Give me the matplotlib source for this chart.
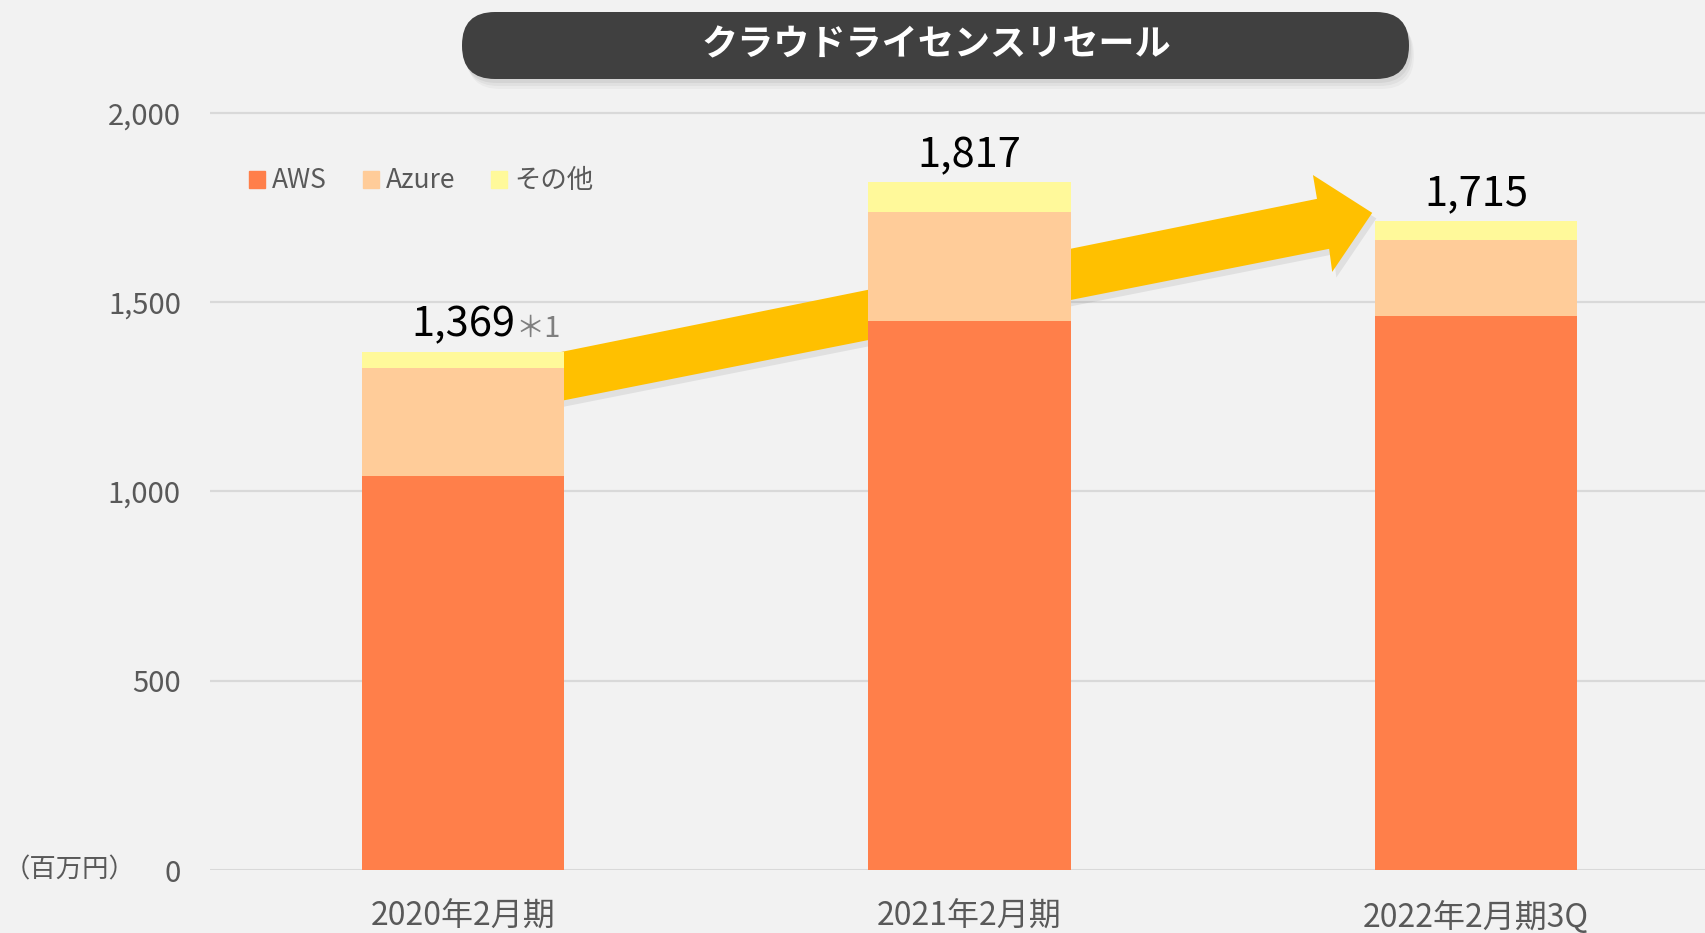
import matplotlib
matplotlib.use('Agg')
import matplotlib.pyplot as plt
from matplotlib.patches import FancyBboxPatch, Polygon, Patch
from matplotlib.transforms import IdentityTransform, ScaledTranslation
import numpy as np

plt.rcParams['font.family'] = ['Noto Sans CJK JP', 'DejaVu Sans']

# data (百万円)
periods = ['2020年2月期', '2021年2月期', '2022年2月期3Q']
aws = [1040, 1451, 1464]
azure = [287, 287, 200]
other = [42, 79, 51]
series_names = ['AWS', 'Azure', 'その他']
yticks = [0, 500, 1000, 1500, 2000]

c_aws = '#FF7F4A'
c_azure = '#FFCC99'
c_other = '#FFF99A'
c_arrow = '#FFC000'
bg = '#F2F2F2'
grey = '#595959'

W, H = 1706, 933
fig = plt.figure(figsize=(W / 100, H / 100), dpi=100, facecolor=bg)
ax = fig.add_axes([210 / W, (H - 870) / H, (W - 210) / W, 776 / H])
ax.set_facecolor(bg)

x = np.arange(len(periods))
bw = 0.4
totals = [a + b + c for a, b, c in zip(aws, azure, other)]
bottom2 = [a + b for a, b in zip(aws, azure)]

ax.bar(x, aws, bw, color=c_aws, zorder=3, label=series_names[0])
ax.bar(x, azure, bw, bottom=aws, color=c_azure, zorder=3, label=series_names[1])
ax.bar(x, other, bw, bottom=bottom2, color=c_other, zorder=3, label=series_names[2])

ax.set_xlim(-0.4995, 2.454)
ax.set_ylim(0, 2050)

# growth arrow behind the bars (data coords)
arrow_pts = [(0.0, 1316), (1.686, 1773), (1.678, 1836), (1.795, 1736),
             (1.716, 1580), (1.710, 1641), (0.0, 1188)]
shadow = Polygon(arrow_pts, closed=True, facecolor='#000000', alpha=0.07,
                 edgecolor='none', zorder=2,
                 transform=ax.transData + ScaledTranslation(3 / 72, -4 / 72, fig.dpi_scale_trans))
ax.add_patch(shadow)
ax.add_patch(Polygon(arrow_pts, closed=True, facecolor=c_arrow, edgecolor='none', zorder=2.5))

# grid
for v in yticks:
    ax.axhline(v, color='#D9D9D9', lw=2.2 if v == 0 else 1.6, zorder=1)
for s in ax.spines.values():
    s.set_visible(False)

ax.set_yticks(yticks)
ax.set_yticklabels([f'{v:,}' for v in yticks], fontsize=21, color=grey)
ax.set_xticks(x)
ax.set_xticklabels(periods, fontsize=23, color=grey)
ax.tick_params(axis='y', length=0, pad=21)
ax.tick_params(axis='x', length=0, pad=22)

# totals above bars
for i, t in enumerate(totals):
    ax.annotate(f'{t:,}', (x[i], t), xytext=(0, 11), textcoords='offset points',
                ha='center', va='baseline', fontsize=30, color='black', zorder=5)
ax.annotate('＊1', (x[0], totals[0]), xytext=(38, 11), textcoords='offset points',
            ha='left', va='baseline', fontsize=21, color='#7F7F7F', zorder=5)

# legend
handles = [Patch(color=c) for c in (c_aws, c_azure, c_other)]
ax.legend(handles, series_names, ncol=3, loc='center left', frameon=False,
          bbox_to_anchor=(249 / W, 1 - 181 / H), bbox_transform=fig.transFigure,
          borderaxespad=0, borderpad=0, fontsize=19, labelcolor=grey,
          handlelength=0.61, handleheight=0.61, handletextpad=0.27, columnspacing=1.35)

# unit
fig.text(4 / W, 1 - 870 / H, '（百万円）', fontsize=19, color=grey, ha='left', va='center')

# title pill with soft shadow
ident = IdentityTransform()
for k, a in [(10, 0.03), (7, 0.04), (4, 0.05)]:
    fig.patches.append(FancyBboxPatch((462 + k / 2, H - 79 - k), 947, 67,
                                      boxstyle='round,pad=0,rounding_size=33',
                                      facecolor='#000000', alpha=a, edgecolor='none',
                                      transform=ident, figure=fig))
fig.patches.append(FancyBboxPatch((462, H - 79), 947, 67,
                                  boxstyle='round,pad=0,rounding_size=33',
                                  facecolor='#404040', edgecolor='none',
                                  transform=ident, figure=fig))
fig.text(936 / W, 1 - 45 / H, 'クラウドライセンスリセール', fontsize=26, fontweight='bold',
         color='white', ha='center', va='center')

fig.savefig('out.png', dpi=100, facecolor=bg)
